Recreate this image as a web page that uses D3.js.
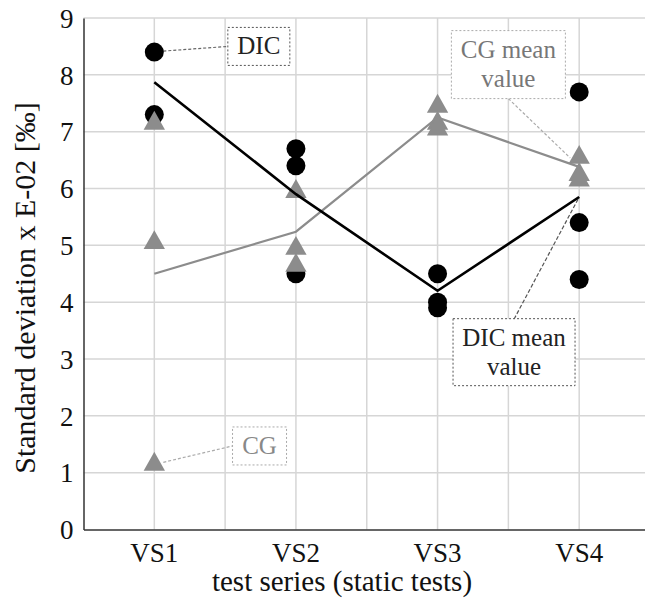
<!DOCTYPE html>
<html><head><meta charset="utf-8">
<script src="https://cdn.jsdelivr.net/npm/d3@7"></script>
<style>body{margin:0;background:#fff}svg{display:block}</style>
</head><body><svg id="c" width="645" height="604"></svg>
<script>
const categories = ["VS1","VS2","VS3","VS4"];
const dicValues = [[8.4,7.3],[6.7,6.4,4.5],[4.5,4.0,3.9],[7.7,5.4,4.4]];
const cgValues = [[7.2,5.1,1.2],[6.0,5.0,4.7],[7.5,7.2,7.1],[6.6,6.3,6.2]];
const dicMean = [7.87,5.9,4.2,5.85];
const cgMean = [4.5,5.24,7.25,6.38];
const yTicks = [0,1,2,3,4,5,6,7,8,9];
const yTitle = "Standard deviation x E-02 [‰]";
const xTitle = "test series (static tests)";

const svg = d3.select("#c");
const L = 83.5, R = 650, T = 18, B = 529.5;
const font = "Liberation Serif";
const x = d3.scaleBand().domain(categories).range([L,R]);
const xi = d3.scaleLinear().domain([0,1]).range([x(categories[0])+x.bandwidth()/2, x(categories[1])+x.bandwidth()/2]);
const y = d3.scaleLinear().domain([0,9]).range([B,T]);

// grid
const g = svg.append("g");
const vLines = [];
categories.forEach(c=>{vLines.push(x(c)+x.bandwidth()/2); vLines.push(x(c)+x.bandwidth());});
g.selectAll("line.v").data(vLines).join("line").attr("x1",d=>d).attr("x2",d=>d).attr("y1",T).attr("y2",B)
 .attr("stroke","#d6d6d6").attr("stroke-width",1.5);
g.selectAll("line.h").data(yTicks.filter(d=>d>0)).join("line").attr("x1",L).attr("x2",R).attr("y1",d=>y(d)).attr("y2",d=>y(d))
 .attr("stroke","#d6d6d6").attr("stroke-width",1.5);

// axes
const ya = svg.append("g").attr("transform",`translate(${L},0)`).call(d3.axisLeft(y).tickValues(yTicks).tickSize(0).tickPadding(10));
ya.attr("font-family",font).attr("font-size",27);
ya.select(".domain").attr("stroke","#333").attr("stroke-width",1.5);
ya.selectAll("text").attr("font-family",font).attr("font-size",27).attr("fill","#111").attr("dy","0.34em");
const xa = svg.append("g").attr("transform",`translate(0,${B})`).call(d3.axisBottom(x).tickSize(0).tickPadding(0));
xa.attr("font-family",font).attr("font-size",27);
xa.select(".domain").attr("stroke","#333").attr("stroke-width",1.5);
xa.selectAll("text").attr("font-family",font).attr("font-size",27).attr("fill","#111").attr("dy",0).attr("y",32);

svg.append("text").attr("transform",`translate(35,${288}) rotate(-90)`).attr("text-anchor","middle")
 .attr("font-family",font).attr("font-size",30).attr("fill","#111").text(yTitle);
svg.append("text").attr("x",342).attr("y",591).attr("text-anchor","middle")
 .attr("font-family",font).attr("font-size",29).attr("fill","#111").text(xTitle);

// annotations
function box(ci, v, w, h, lines, color, dash, txtColor){
  const cx = xi(ci), cy = y(v);
  svg.append("rect").attr("x",cx-w/2).attr("y",cy-h/2).attr("width",w).attr("height",h)
   .attr("fill","#fff").attr("stroke",color).attr("stroke-width",1).attr("stroke-dasharray",dash);
  const lh = 29;
  lines.forEach((t,i)=>{
    svg.append("text").attr("x",cx).attr("y",cy+8-(lines.length-1)*lh/2+i*lh).attr("text-anchor","middle")
     .attr("font-family",font).attr("font-size",25).attr("fill",txtColor).text(t);
  });
}
function leader(x1,y1,x2,y2,color,dash){
  svg.append("line").attr("x1",x1).attr("y1",y1).attr("x2",x2).attr("y2",y2)
   .attr("stroke",color).attr("stroke-width",1.2).attr("stroke-dasharray",dash);
}
leader(xi(0)+9,y(8.4)-1,xi(0.738)-31,y(8.5),"#666","3,2");
leader(xi(0)+9,y(1.2)+1,xi(0.743)-27,y(1.47),"#aaa","3,2");
leader(xi(2.5),y(8.18)+34,xi(3)-9,y(6.38)-9,"#aaa","3,2");
leader(xi(2.54),y(3.12)-33,xi(3),y(5.85),"#555","4,2");
box(0.738,8.5,62,38,["DIC"],"#555","2,2","#222");
box(0.743,1.47,54,38,["CG"],"#aaa","2,2","#888");
box(2.5,8.18,114,68,["CG mean","value"],"#aaa","2,2","#777");
box(2.54,3.12,122,67,["DIC mean","value"],"#555","2,2","#222");

// markers
const dicPts = [], cgPts = [];
categories.forEach((c,i)=>{dicValues[i].forEach(v=>dicPts.push([i,v])); cgValues[i].forEach(v=>cgPts.push([i,v]));});
svg.selectAll("circle.d").data(dicPts).join("circle").attr("cx",d=>xi(d[0])).attr("cy",d=>y(d[1])).attr("r",9.5).attr("fill","#000");
const tri = {draw(ctx,size){const s=Math.sqrt(size); ctx.moveTo(0,-s*0.46); ctx.lineTo(s*0.52,s*0.46); ctx.lineTo(-s*0.52,s*0.46); ctx.closePath();}};
svg.selectAll("path.t").data(cgPts).join("path").attr("d",d3.symbol(tri,420))
 .attr("transform",d=>`translate(${xi(d[0])},${y(d[1])})`).attr("fill","#8c8c8c");

// mean lines
const line = d3.line().x((d,i)=>xi(i)).y(d=>y(d));
svg.append("path").attr("d",line(cgMean)).attr("fill","none").attr("stroke","#8c8c8c").attr("stroke-width",2.2);
svg.append("path").attr("d",line(dicMean)).attr("fill","none").attr("stroke","#000").attr("stroke-width",2.6);
</script></body></html>
